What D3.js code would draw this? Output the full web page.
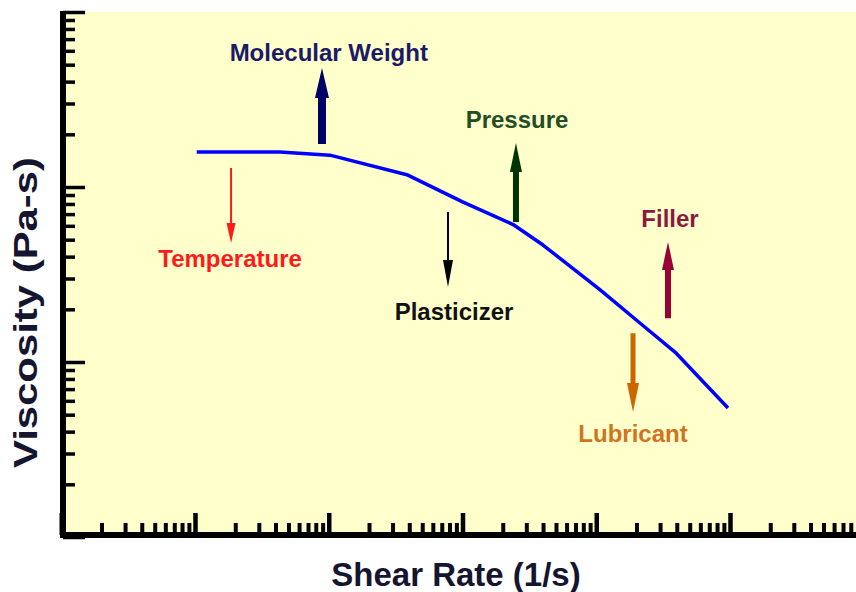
<!DOCTYPE html>
<html>
<head>
<meta charset="utf-8">
<script src="https://cdn.jsdelivr.net/npm/d3@7"></script>
<style>
  html, body { margin: 0; padding: 0; background: #ffffff; }
  svg { display: block; }
  text { font-family: "Liberation Sans", Arial, Helvetica, sans-serif; font-weight: bold; }
</style>
</head>
<body>
<svg id="chart" width="856" height="592"></svg>
<script>
// ---- data ----
const shearRate = [1.03, 4.3, 10.2, 39, 101, 239, 400, 1070, 2120, 3880, 9660];
const viscosity = [158.5, 158.5, 152, 117, 82, 61, 46.6, 25.8, 16.7, 11.4, 5.46];

// annotations: label, x position (shear rate), arrow start / end (viscosity), label baseline (viscosity), label centre x
const annLabels  = ["Molecular Weight", "Temperature", "Pressure", "Plasticizer", "Filler", "Lubricant"];
const annX       = [8.9, 1.86, 251, 77.9, 3439, 1883];
const annFrom    = [176, 128.5, 63.1, 72, 17.8, 14.6];
const annTo      = [478, 47.9, 178.4, 26.8, 48.5, 5.18];
const annLabelY  = [525, 34.9, 217.3, 17.4, 59.1, 3.49];
const annLabelX  = [10.0, 1.83, 255.6, 86.4, 3560, 1883];

const xTitle = "Shear Rate (1/s)";
const yTitle = "Viscosity (Pa-s)";

// ---- styles ----
const annStyle = {
  "Molecular Weight": {color: "#000066", text: "#1a1a66", shaft: 8, headW: 14, headL: 30},
  "Temperature":      {color: "#ff1a1a", text: "#ff1a1a", shaft: 2, headW: 9,  headL: 20},
  "Pressure":         {color: "#003300", text: "#234d23", shaft: 6, headW: 12, headL: 29},
  "Plasticizer":      {color: "#000000", text: "#111111", shaft: 2, headW: 10, headL: 27},
  "Filler":           {color: "#990033", text: "#8c1a40", shaft: 6, headW: 12, headL: 28},
  "Lubricant":        {color: "#cc6600", text: "#d0741e", shaft: 5, headW: 12, headL: 29}
};

const svg = d3.select("#chart");
const W = 856, H = 592;

const x = d3.scaleLog().domain([0.1, 1e5]).range([61.25, 863.75]);
const y = d3.scaleLog().domain([1, 1000]).range([537, 12]);

const axisY = 535, axisX = 63;

// background
svg.append("rect").attr("x", 60).attr("y", 12).attr("width", W - 60).attr("height", 526)
  .attr("fill", "#ffffcc");

// ticks
const xAll = x.ticks();
const xMajor = xAll.filter(v => Math.abs(Math.log10(v) - Math.round(Math.log10(v))) < 1e-9);
const xMinor = xAll.filter(v => !xMajor.includes(v));
const yAll = y.ticks();
const yMajor = yAll.filter(v => Math.abs(Math.log10(v) - Math.round(Math.log10(v))) < 1e-9);
const yMinor = yAll.filter(v => !yMajor.includes(v));

function styleAxis(g, w) {
  g.select(".domain").remove();
  g.selectAll(".tick line").attr("stroke", "#000").attr("stroke-width", w);
  g.selectAll(".tick text").remove();
}

svg.append("g").attr("transform", `translate(0,${axisY})`)
  .call(d3.axisBottom(x).tickValues(xMinor).tickSize(-12).tickFormat(""))
  .call(g => styleAxis(g, 4));
svg.append("g").attr("transform", `translate(0,${axisY})`)
  .call(d3.axisBottom(x).tickValues(xMajor).tickSize(-22).tickFormat(""))
  .call(g => styleAxis(g, 4.5));
svg.append("g").attr("transform", `translate(${axisX},0)`)
  .call(d3.axisLeft(y).tickValues(yMinor).tickSize(-12).tickFormat(""))
  .call(g => styleAxis(g, 3.5));
svg.append("g").attr("transform", `translate(${axisX},0)`)
  .call(d3.axisLeft(y).tickValues(yMajor).tickSize(-22).tickFormat(""))
  .call(g => styleAxis(g, 3.5));

// axis lines
svg.append("line").attr("x1", axisX).attr("x2", axisX).attr("y1", 11).attr("y2", 538)
  .attr("stroke", "#000").attr("stroke-width", 6);
svg.append("line").attr("x1", 60).attr("x2", W).attr("y1", axisY).attr("y2", axisY)
  .attr("stroke", "#000").attr("stroke-width", 6);

// curve
const pts = shearRate.map((v, i) => [v, viscosity[i]]);
svg.append("path").datum(pts)
  .attr("d", d3.line().x(d => x(d[0])).y(d => y(d[1])))
  .attr("fill", "none").attr("stroke", "#0000ff").attr("stroke-width", 3.5)
  .attr("stroke-linejoin", "round");

// arrows
function arrowPath(cx, y0, y1, s) {
  const dir = y1 < y0 ? -1 : 1; // -1 up
  const hb = y1 - dir * s.headL;
  const hs = s.shaft / 2, hw = s.headW / 2;
  return `M${cx - hs},${y0} L${cx - hs},${hb} L${cx - hw},${hb} L${cx},${y1} L${cx + hw},${hb} L${cx + hs},${hb} L${cx + hs},${y0} Z`;
}
annLabels.forEach((lab, i) => {
  const s = annStyle[lab];
  svg.append("path")
    .attr("d", arrowPath(x(annX[i]), y(annFrom[i]), y(annTo[i]), s))
    .attr("fill", s.color);
  svg.append("text")
    .attr("x", x(annLabelX[i])).attr("y", y(annLabelY[i]))
    .attr("text-anchor", "middle")
    .attr("font-size", 24)
    .attr("fill", s.text)
    .text(lab);
});

// axis titles
svg.append("text").attr("x", 456).attr("y", 586).attr("text-anchor", "middle")
  .attr("font-size", 33).attr("fill", "#151530").text(xTitle);
svg.append("text").attr("transform", "translate(37,312.5) rotate(-90)")
  .attr("text-anchor", "middle").attr("font-size", 33)
  .attr("textLength", 311).attr("lengthAdjust", "spacingAndGlyphs")
  .attr("fill", "#151530").text(yTitle);
</script>
</body>
</html>
